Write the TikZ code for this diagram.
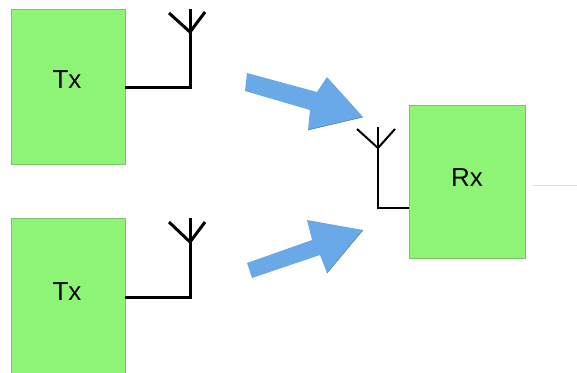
\documentclass[tikz,border=0pt]{standalone}
\usepackage{fontspec}
\setmainfont{Liberation Sans}
\usetikzlibrary{positioning,calc}
\definecolor{boxgreen}{RGB}{142,244,118}
\definecolor{boxedge}{RGB}{125,195,105}
\definecolor{wave}{RGB}{106,169,232}

\begin{document}
\begin{tikzpicture}[x=1pt,y=-1pt,
  unit/.style={fill=boxgreen,draw=boxedge,line width=0.8pt,minimum width=114pt,minimum height=155pt,inner sep=0pt},
  lbl/.style={font=\fontsize{26}{30}\selectfont,inner sep=0pt},
  antline/.style={line width=3pt},
  rxline/.style={line width=2pt},
  faint/.style={gray!25,line width=0.8pt}]

\useasboundingbox (0,0) rectangle (577,372);

% boxes
\node[unit] (tx1) at (68,87) {};
\node[unit] (tx2) at (68,296) {};
\node[unit,minimum width=116pt,minimum height=153pt] (rx) at (467,181.5) {};
\node[lbl] (tx1lbl) at (67,80) {Tx};
\node[lbl] (tx2lbl) at (67,292) {Tx};
\node[lbl] (rxlbl) at (467,178) {Rx};

% antennas
\coordinate (t1) at (190,87);
\coordinate (t1j) at (190,32);
\coordinate (t2) at (190,297);
\coordinate (t2j) at (190,242);
\coordinate (r1) at (378,208);
\coordinate (r1j) at (378,148);

\draw[antline] (tx1.east |- t1) -- (t1) -- (t1j);
\draw[antline] ($(t1j)+(-21,-19)$) -- (t1j) -- ($(t1j)+(15,-20)$);
\draw[antline] (t1j) -- ++(0,-23);

\draw[antline] (tx2.east |- t2) -- (t2) -- (t2j);
\draw[antline] ($(t2j)+(-21,-20)$) -- (t2j) -- ($(t2j)+(15,-20)$);
\draw[antline] (t2j) -- ++(0,-24);

\draw[rxline] (rx.west |- r1) -- (r1) -- (r1j);
\draw[rxline] ($(r1j)+(-21,-19)$) -- (r1j) -- ($(r1j)+(17,-19)$);
\draw[rxline] (r1j) -- ++(0,-21);

% output
\coordinate (out) at (577,185);
\draw[faint] ([xshift=7pt]rx.east |- out) -- (out);

% signal arrows
\fill[wave] (247,73) -- (317,92) -- (327,77) -- (363,117) -- (308,130) -- (310,110) -- (245,91) -- cycle;
\draw[wave!70!black,line width=0.5pt] (363,117) -- (308,130);
\fill[wave] (247,263) -- (312,240) -- (307,220) -- (363,230) -- (327,273) -- (320,255) -- (252,278) -- cycle;
\draw[wave!70!black,line width=0.5pt] (363,230) -- (327,273);

\end{tikzpicture}
\end{document}
